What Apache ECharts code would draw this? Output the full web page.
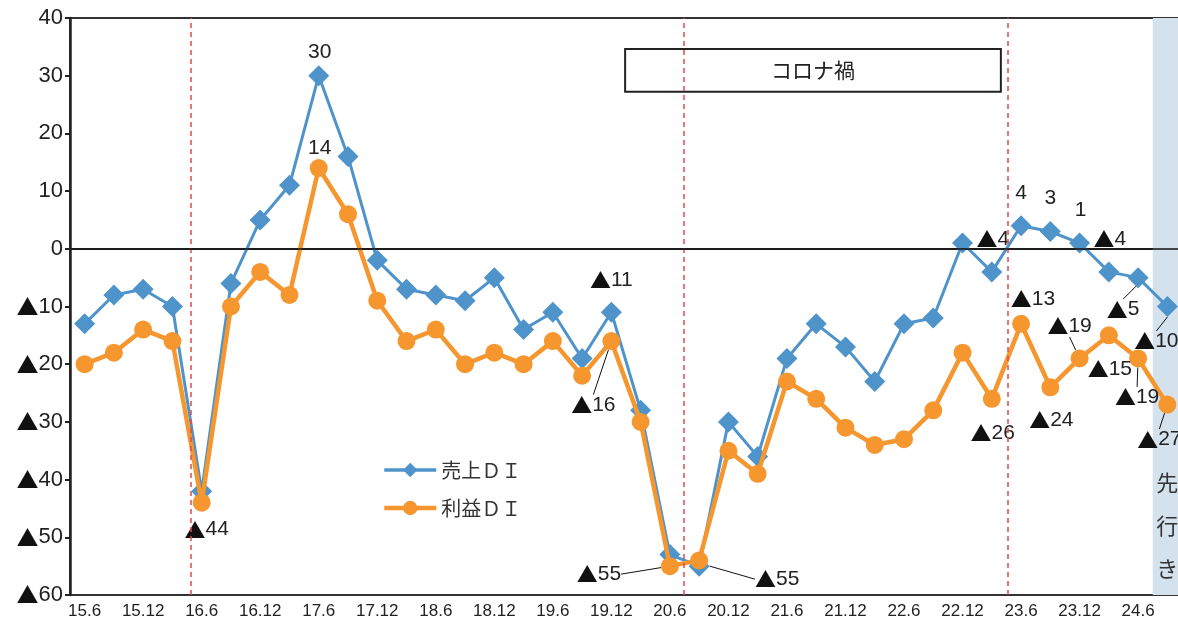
<!DOCTYPE html>
<html><head><meta charset="utf-8">
<script src="https://cdn.jsdelivr.net/npm/echarts@6/dist/echarts.min.js"></script>
<style>html,body{margin:0;padding:0;background:#fff}#c{width:1178px;height:622px}</style>
</head><body><div id="c"></div>
<script>
const categories = ['15.6','15.9','15.12','16.3','16.6','16.9','16.12','17.3','17.6','17.9','17.12','18.3','18.6','18.9','18.12','19.3','19.6','19.9','19.12','20.3','20.6','20.9','20.12','21.3','21.6','21.9','21.12','22.3','22.6','22.9','22.12','23.3','23.6','23.9','23.12','24.3','24.6','24.9'];
const salesDI = [-13,-8,-7,-10,-42,-6,5,11,30,16,-2,-7,-8,-9,-5,-14,-11,-19,-11,-28,-53,-55,-30,-36,-19,-13,-17,-23,-13,-12,1,-4,4,3,1,-4,-5,-10];
const profitDI = [-20,-18,-14,-16,-44,-10,-4,-8,14,6,-9,-16,-14,-20,-18,-20,-16,-22,-16,-30,-55,-54,-35,-39,-23,-26,-31,-34,-33,-28,-18,-26,-13,-24,-19,-15,-19,-27];
const yTicks = [40,30,20,10,0,-10,-20,-30,-40,-50,-60];
const seriesNames = ['売上ＤＩ','利益ＤＩ'];
const events = [
  {pos: 3.64, text: '2016年4月\n熊本地震', y: 28.65},
  {pos: 20.47, text: '2020年7月\n令和2年豪雨', y: 16.1},
  {pos: 31.54, text: '2023年5月\nコロナ5類移行', y: 18.4}
];
const coronaBox = {from: 18.47, to: 31.31, top: 34.63, bottom: 27.23, text: 'コロナ禍'};
const forecastIndex = 37;
const forecastText = '先\n行\nき';

// label placement (style/position only): index -> [dx, dy, showLeaderLine]
const labelPlace = [
  {8:[1,-23,0],18:[0,-32,0],21:[78,13,1],31:[1,-33,0],32:[0,-33,0],33:[0,-33,0],34:[1,-33,0],35:[1,-33,0],36:[-15,32,1],37:[-11,35,1]},
  {4:[5,27,0],8:[1,-20,0],18:[-18,64,1],20:[-71,8,1],31:[1,34,0],32:[12,-25,0],33:[1,33,0],34:[-10,-32,1],35:[1,34,0],36:[-1,39,1],37:[-8,35,1]}
];
const FONT = "'Liberation Sans','Noto Sans CJK JP',sans-serif";
const CJK = "'Noto Sans CJK JP',sans-serif";
const fmt = v => v < 0 ? '{t|▲}' + (-v) : String(v);

function buildData(vals, si){
  return vals.map((v,i)=>{
    const p = labelPlace[si][i];
    return {value: v,
      label: {show: !!p},
      labelLine: {show: !!(p && p[2])}};
  });
}
const colors = ['#4F93CB','#F5962F'];
const labelBase = (size) => ({fontSize:size, color:'#222', fontFamily:FONT,
  rich:{t:{fontSize:size, fontFamily:CJK, color:'#111'}}});
const chart = echarts.init(document.getElementById('c'), null, {renderer:'canvas'});
chart.setOption({
  backgroundColor:'#fff',
  animation:false,
  textStyle:{fontFamily:FONT},
  grid:{left:70, top:18, width:1112, height:577, outerBoundsMode:'none', containLabel:false,
    show:true, borderColor:'#333', borderWidth:2, backgroundColor:'transparent'},
  legend:{orient:'vertical', left:377, top:455, itemWidth:52, itemHeight:18, itemGap:18,
    textStyle:{fontSize:20, color:'#333', fontFamily:CJK},
    data:[
      {name:seriesNames[0], lineStyle:{width:3.5}},
      {name:seriesNames[1], lineStyle:{width:4.5}}
    ]},
  xAxis:[{
    type:'category', data:categories, boundaryGap:true,
    axisLine:{lineStyle:{color:'#444', width:2}},
    axisTick:{show:false},
    axisLabel:{interval:1, fontSize:17, color:'#222', margin:8, fontFamily:FONT},
    splitLine:{show:false}
  },{
    type:'value', min:-0.5, max:37.5, show:false
  }],
  yAxis:{type:'value', min:-60, max:40, interval:10,
    axisLine:{show:true, onZero:false, lineStyle:{color:'#222', width:2.5}},
    axisTick:{show:true, length:5, lineStyle:{color:'#222', width:2}},
    axisLabel:Object.assign(labelBase(22), {margin:7, formatter: v => yTicks.includes(v) ? fmt(v) : ''}),
    splitLine:{show:false}},
  series:[
    {type:'scatter', xAxisIndex:1, data:[], z:1, silent:true,
      markArea:{silent:true, itemStyle:{color:'#D3E2EC'},
        label:{show:true, position:'insideBottom', distance:5, fontSize:22, lineHeight:43, color:'#333', fontFamily:CJK},
        data:[[{name:forecastText, xAxis: forecastIndex-0.5},{xAxis: forecastIndex+0.5}]]},
      markLine:{silent:true, symbol:'none', label:{show:false},
        data:[
          ...events.map(e=>({xAxis:e.pos, lineStyle:{color:'#E5484D', width:1.5, type:[5,4]}})),
          {yAxis:0, lineStyle:{color:'#111', width:1.6, type:'solid'}}
        ]}
    },
    {type:'scatter', xAxisIndex:1, data:[], z:2, silent:true,
      markArea:{silent:true, itemStyle:{color:'#fff', borderColor:'#222', borderWidth:2},
        label:{show:true, position:'inside', fontSize:21, color:'#222', fontFamily:CJK},
        data:[[{name:coronaBox.text, xAxis:coronaBox.from, yAxis:coronaBox.top},{xAxis:coronaBox.to, yAxis:coronaBox.bottom}]]},
      markPoint:{silent:true, symbol:'rect', symbolSize:1, itemStyle:{opacity:0},
        data:events.map(e=>({coord:[e.pos, e.y], label:{show:true, position:'inside', formatter:e.text,
            fontSize:16, lineHeight:23, color:'#333', backgroundColor:'#fff', padding:[5,2], fontFamily:FONT}}))}
    },
    {name:seriesNames[0], type:'line', data:buildData(salesDI,0), z:3,
      color:colors[0], symbol:'diamond', symbolSize:21, showAllSymbol:true,
      lineStyle:{width:3, color:colors[0]}, itemStyle:{color:colors[0]},
      label:Object.assign(labelBase(21), {position:'inside', formatter: p => fmt(p.value)}),
      labelLine:{lineStyle:{color:'#111', width:1}},
      labelLayout: p => { const q = labelPlace[0][p.dataIndex]; return q ? {dx:q[0], dy:q[1]} : {}; }
    },
    {name:seriesNames[1], type:'line', data:buildData(profitDI,1), z:4,
      color:colors[1], symbol:'circle', symbolSize:18, showAllSymbol:true,
      lineStyle:{width:4.5, color:colors[1]}, itemStyle:{color:colors[1]},
      label:Object.assign(labelBase(21), {position:'inside', formatter: p => fmt(p.value)}),
      labelLine:{lineStyle:{color:'#111', width:1}},
      labelLayout: p => { const q = labelPlace[1][p.dataIndex]; return q ? {dx:q[0], dy:q[1]} : {}; }
    }
  ]
});
</script></body></html>
